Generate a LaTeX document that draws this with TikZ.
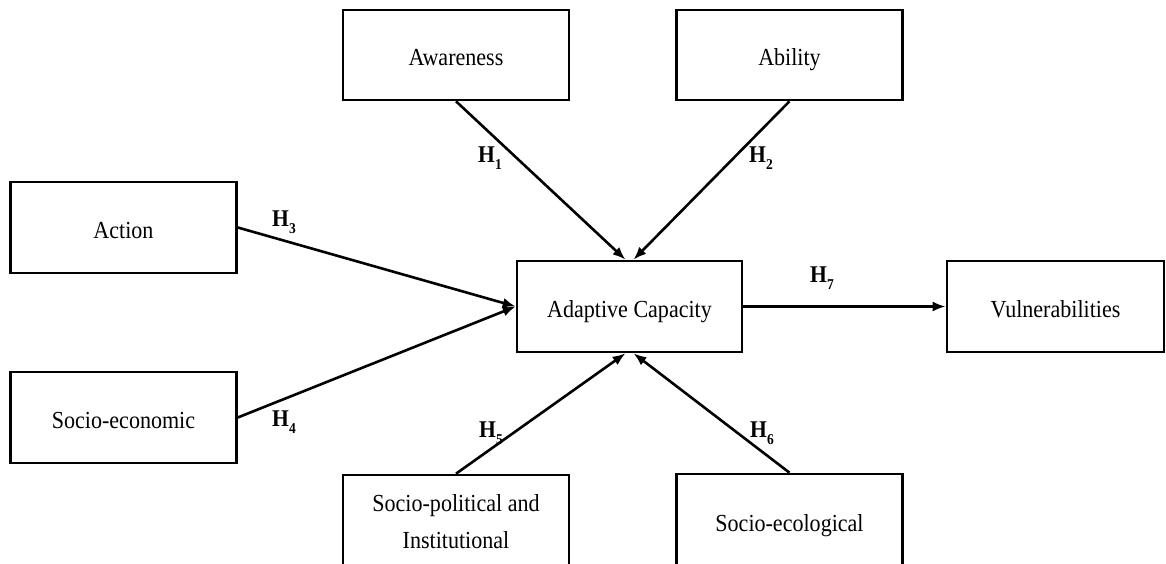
\documentclass[tikz,border=0pt]{standalone}
\usepackage{fontspec}
\setmainfont{Liberation Serif}[FakeStretch=0.9]
\usetikzlibrary{arrows.meta}
\newcommand{\Hsub}[1]{H\raisebox{-0.3em}{\fontsize{15}{15}\selectfont #1}}
\tikzset{
  box/.style={draw, line width=2.6pt, minimum width=226pt, minimum height=90pt,
    inner sep=0pt, align=center, font=\fontsize{24.5}{37}\selectfont},
  onel/.style={text height=21pt, text depth=0pt},
  conn/.style={line width=2.6pt, -{Latex[length=13pt,width=10pt]}},
  hlab/.style={inner sep=0pt, font=\fontsize{24}{26}\selectfont\bfseries}
}
\begin{document}
\begin{tikzpicture}[x=1pt,y=-1pt]
\useasboundingbox (0,0) rectangle (1166,564);
\clip (0,0) rectangle (1166,564);
\fill[white] (0,0) rectangle (1166,564);
\node[box, onel] (aw) at (456,55) {Awareness};
\node[box, onel] (ab) at (789.5,55) {Ability};
\node[box, onel, minimum height=91pt] (act) at (123.5,227.5) {Action};
\node[box, onel, minimum height=91pt] (soc) at (123.5,417.5) {Socio-economic};
\node[box, onel, minimum width=225pt, minimum height=91pt] (ac) at (629.5,306.5) {Adaptive Capacity};
\node[box, onel, minimum width=217pt, minimum height=91pt] (vul) at (1055.5,306.5) {Vulnerabilities};
\node[box, minimum height=94pt] (sp) at (456,522) {Socio-political and\\Institutional};
\node[box, onel, minimum height=94pt] (se) at (789.5,521) {Socio-ecological};
\draw[conn] (aw.south) -- ([xshift=-4pt]ac.north);
\draw[conn] (ab.south) -- ([xshift=4pt]ac.north);
\draw[conn] (act.east) -- (ac.west);
\draw[conn] (soc.east) -- (ac.west);
\draw[conn] (sp.north) -- ([xshift=-4pt]ac.south);
\draw[conn] (se.north) -- ([xshift=4pt]ac.south);
\draw[conn] (ac.east) -- (vul.west);
\node[hlab] (h1) at (490,158) {\Hsub{1}};
\node[hlab] (h2) at (761,158) {\Hsub{2}};
\node[hlab] (h3) at (284,222) {\Hsub{3}};
\node[hlab] (h4) at (284,422) {\Hsub{4}};
\node[hlab] (h5) at (491,433) {\Hsub{5}};
\node[hlab] (h6) at (762,433) {\Hsub{6}};
\node[hlab] (h7) at (822,278) {\Hsub{7}};
\end{tikzpicture}
\end{document}
